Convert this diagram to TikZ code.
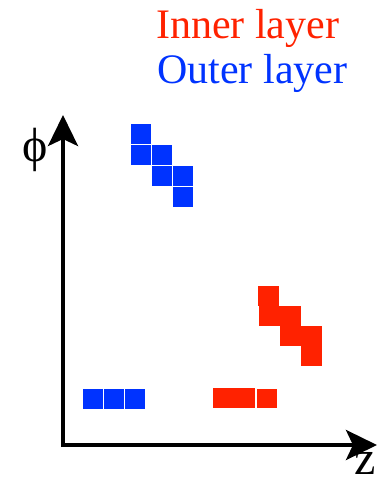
\documentclass[tikz,border=0pt]{standalone}
\usepackage{fontspec}
\setmainfont{Liberation Serif}
\usetikzlibrary{arrows.meta}
\definecolor{layerred}{RGB}{255,34,0}
\definecolor{layerblue}{RGB}{0,51,255}
\begin{document}
\begin{tikzpicture}[
				x=1pt, y=-1pt,
				axis/.style={line width=4pt, -{Stealth[length=31pt, width=30pt, inset=7pt]}},
				bluecell/.style={fill=layerblue, draw=white, line width=1pt, minimum width=21pt, minimum height=21pt, inner sep=0pt, anchor=north west},
				redcell/.style={fill=layerred, minimum width=21pt, minimum height=20pt, inner sep=0pt, anchor=north west},
				legend/.style={inner sep=0pt, anchor=base west, font=\fontsize{42}{50}\selectfont}
			]
			\useasboundingbox (0,0) rectangle (381,479);
			% axes
			\coordinate (o) at (63,445);
			\coordinate (phitip) at (63,115);
			\coordinate (ztip) at (377,445);
			\draw[axis] ([yshift=-2pt]o) -- (phitip);
			\draw[axis] ([xshift=-2pt]o) -- (ztip);
			\node[inner sep=0pt, anchor=base, font=\fontsize{48}{50}\selectfont] (phi) at (35,161) {ϕ};
			\node[inner sep=0pt, anchor=base west, font=\fontsize{48}{54}\selectfont] (z) at (354,474) {z};
			% legend
			\node[legend, text=layerred] (inner) at (156,38) {Inner layer};
			\node[legend, text=layerblue] (outer) at (157,83) {Outer layer};
			% outer layer hits
			\foreach \n/\x/\y in {1/130/123, 2/130/144, 3/151/144, 4/151/165, 5/172/165, 6/172/186, 7/82/388, 8/103/388, 9/124/388}
				\node[bluecell] (b\n) at (\x,\y) {};
			% inner layer hits
			\foreach \n/\x/\y in {1/258/286, 2/259/306, 3/280/306, 4/280/326, 5/301/326, 6/301/346, 7/213/388, 8/234/388}
				\node[redcell] (r\n) at (\x,\y) {};
			\node[redcell, draw=white, line width=1pt] (r9) at (255.5,388) {};
		\end{tikzpicture}
\end{document}
